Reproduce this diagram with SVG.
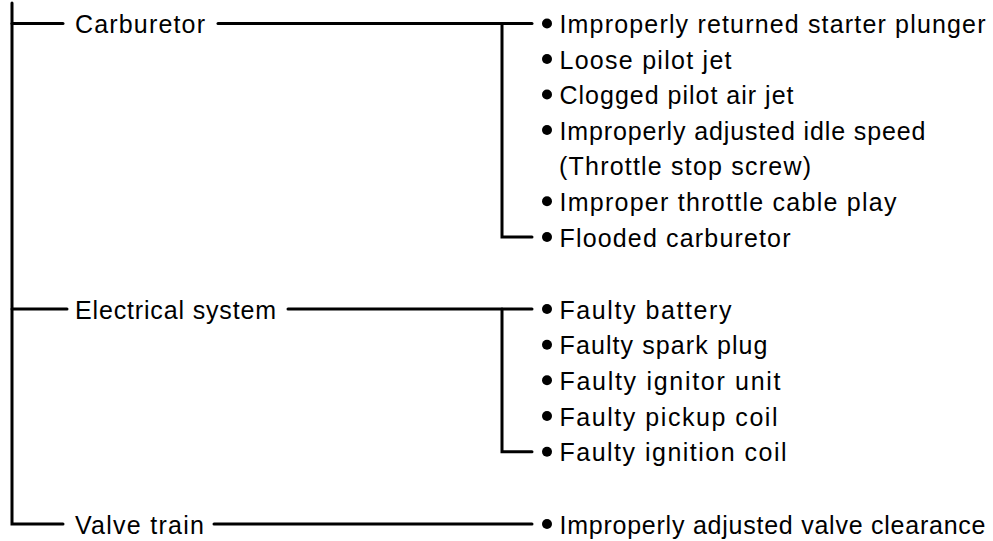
<svg xmlns="http://www.w3.org/2000/svg" width="993" height="541" viewBox="0 0 993 541">
<style>
text{font-family:"Liberation Sans",Arial,sans-serif;font-size:25px;letter-spacing:1px;fill:#000}
.ln{stroke:#000;stroke-width:3;fill:none;stroke-linecap:round;stroke-linejoin:miter}
.dot{fill:#000}
</style>
<rect width="993" height="541" fill="#fff"/>
<g id="connectors">
<path class="ln" d="M12 3 V524 H63"/>
<path class="ln" d="M12 23.5 H63"/>
<path class="ln" d="M12 309 H67"/>
<path class="ln" d="M218 23.5 H532"/>
<path class="ln" d="M502 23.5 V237 H532"/>
<path class="ln" d="M288 309 H532"/>
<path class="ln" d="M502 309 V451.7 H532"/>
<path class="ln" d="M214 524 H532"/>
</g>
<g id="carburetor"><text x="75" y="33" textLength="131" lengthAdjust="spacing">Carburetor</text></g>
<g id="electrical"><text x="75" y="318.5" textLength="202" lengthAdjust="spacing">Electrical system</text></g>
<g id="valve"><text x="75" y="533.5" textLength="130" lengthAdjust="spacing">Valve train</text></g>
<g id="carb-items">
<circle class="dot" cx="547" cy="23.5" r="5"/><text x="559.5" y="33" textLength="427" lengthAdjust="spacing">Improperly returned starter plunger</text>
<circle class="dot" cx="547" cy="59" r="5"/><text x="559.5" y="68.5" textLength="173" lengthAdjust="spacing">Loose pilot jet</text>
<circle class="dot" cx="547" cy="94.5" r="5"/><text x="559.5" y="104" textLength="235" lengthAdjust="spacing">Clogged pilot air jet</text>
<circle class="dot" cx="547" cy="130" r="5"/><text x="559.5" y="139.5" textLength="367" lengthAdjust="spacing">Improperly adjusted idle speed</text>
<text x="559" y="175" textLength="253" lengthAdjust="spacing">(Throttle stop screw)</text>
<circle class="dot" cx="547" cy="201.3" r="5"/><text x="559.5" y="210.8" textLength="338" lengthAdjust="spacing">Improper throttle cable play</text>
<circle class="dot" cx="547" cy="237" r="5"/><text x="559.5" y="246.5" textLength="232" lengthAdjust="spacing">Flooded carburetor</text>
</g>
<g id="elec-items">
<circle class="dot" cx="547" cy="309" r="5"/><text x="559.5" y="318.5" textLength="173" lengthAdjust="spacing">Faulty battery</text>
<circle class="dot" cx="547" cy="344.7" r="5"/><text x="559.5" y="354.2" textLength="209" lengthAdjust="spacing">Faulty spark plug</text>
<circle class="dot" cx="547" cy="380.3" r="5"/><text x="559.5" y="389.8" textLength="222" lengthAdjust="spacing">Faulty ignitor unit</text>
<circle class="dot" cx="547" cy="416" r="5"/><text x="559.5" y="425.5" textLength="219" lengthAdjust="spacing">Faulty pickup coil</text>
<circle class="dot" cx="547" cy="451.7" r="5"/><text x="559.5" y="461.2" textLength="228" lengthAdjust="spacing">Faulty ignition coil</text>
</g>
<g id="valve-items">
<circle class="dot" cx="547" cy="524" r="5"/><text x="559.5" y="533.5" textLength="427" lengthAdjust="spacing">Improperly adjusted valve clearance</text>
</g>
</svg>
